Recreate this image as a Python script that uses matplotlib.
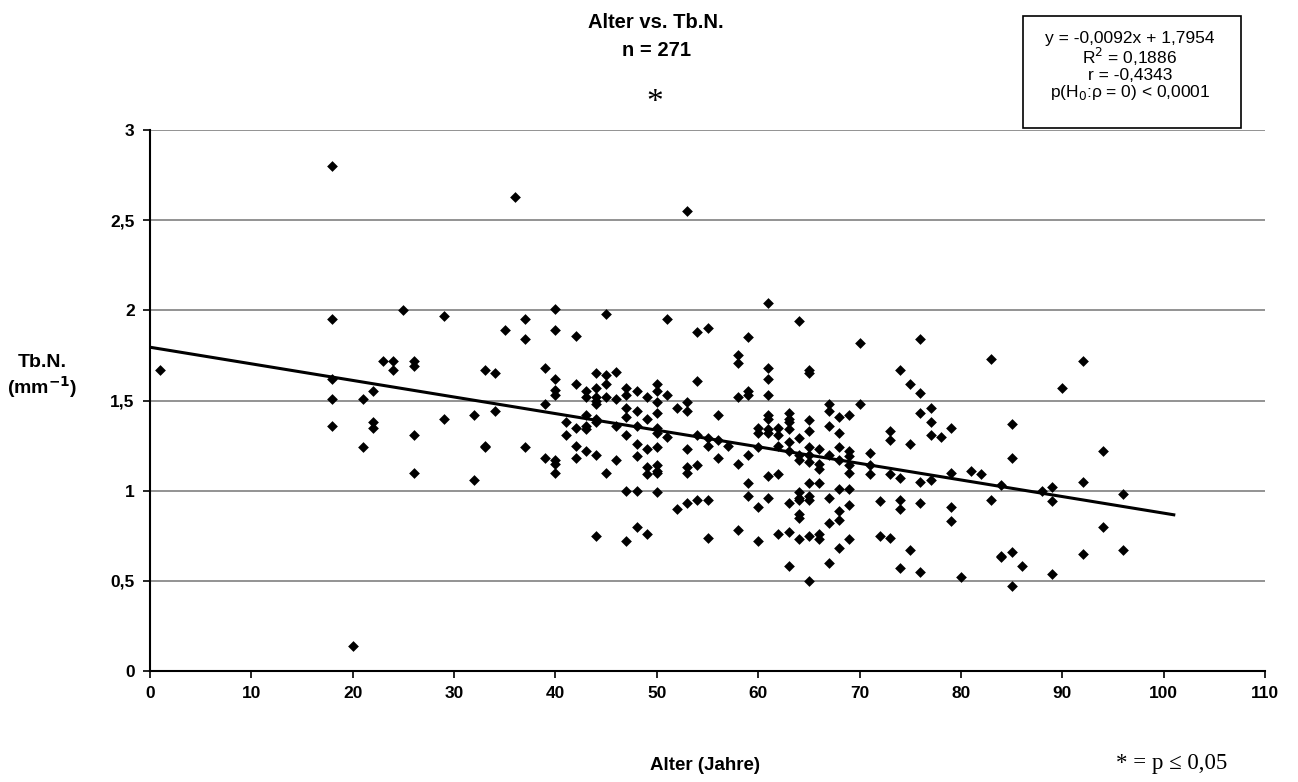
import matplotlib
matplotlib.use("Agg")
import matplotlib.pyplot as plt
import numpy as np

# ---- data ----
ages_groups = {
    1: [1.67],
    18: [2.80, 1.95, 1.62, 1.51, 1.36],
    20: [0.14],
    21: [1.51, 1.24],
    22: [1.55, 1.38, 1.35],
    23: [1.72],
    24: [1.72, 1.67],
    25: [2.00],
    26: [1.72, 1.69, 1.31, 1.10],
    29: [1.97, 1.40],
    32: [1.42, 1.06],
    33: [1.67, 1.25, 1.24],
    34: [1.65, 1.44],
    35: [1.89],
    36: [2.63],
    37: [1.95, 1.84, 1.24],
    39: [1.68, 1.48, 1.18],
    40: [2.01, 1.89, 1.62, 1.56, 1.53, 1.17, 1.15, 1.10],
    41: [1.38, 1.31],
    42: [1.86, 1.59, 1.35, 1.25, 1.18],
    43: [1.55, 1.52, 1.42, 1.36, 1.34, 1.22],
    44: [1.65, 1.57, 1.52, 1.50, 1.48, 1.40, 1.38, 1.20, 0.75],
    45: [1.98, 1.64, 1.59, 1.52, 1.10],
    46: [1.66, 1.51, 1.36, 1.17],
    47: [1.57, 1.53, 1.46, 1.41, 1.31, 1.00, 0.72],
    48: [1.55, 1.44, 1.36, 1.26, 1.19, 1.00, 0.80],
    49: [1.52, 1.40, 1.23, 1.13, 1.09, 0.76],
    50: [1.59, 1.55, 1.49, 1.43, 1.35, 1.32, 1.24, 1.14, 1.11, 1.10, 0.99],
    51: [1.95, 1.53, 1.30],
    52: [1.46, 0.90],
    53: [2.55, 1.49, 1.44, 1.23, 1.13, 1.10, 0.93],
    54: [1.88, 1.61, 1.31, 1.14, 0.95],
    55: [1.90, 1.29, 1.25, 0.95, 0.74],
    56: [1.42, 1.28, 1.18],
    57: [1.25],
    58: [1.75, 1.71, 1.52, 1.15, 0.78],
    59: [1.85, 1.55, 1.53, 1.20, 1.04, 0.97],
    60: [1.35, 1.32, 1.24, 0.91, 0.72],
    61: [2.04, 1.68, 1.62, 1.53, 1.42, 1.40, 1.34, 1.32, 1.08, 0.96],
    62: [1.35, 1.31, 1.25, 1.09, 0.76],
    63: [1.43, 1.40, 1.38, 1.34, 1.27, 1.22, 0.93, 0.77, 0.58],
    64: [1.94, 1.29, 1.20, 1.17, 0.99, 0.96, 0.95, 0.87, 0.85, 0.73],
    65: [1.67, 1.65, 1.39, 1.33, 1.24, 1.20, 1.16, 1.04, 0.97, 0.95, 0.75, 0.50],
    66: [1.23, 1.15, 1.12, 1.04, 0.76, 0.73],
    67: [1.48, 1.44, 1.36, 1.20, 0.96, 0.82, 0.60],
    68: [1.41, 1.32, 1.24, 1.17, 1.01, 0.89, 0.84, 0.68],
    69: [1.42, 1.22, 1.19, 1.14, 1.10, 1.01, 0.92, 0.73],
    70: [1.82, 1.48],
    71: [1.21, 1.14, 1.09],
    72: [0.94, 0.75],
    73: [1.33, 1.28, 1.09, 0.74],
    74: [1.67, 1.07, 0.95, 0.90, 0.57],
    75: [1.59, 1.26, 0.67],
    76: [1.84, 1.54, 1.43, 1.05, 0.93, 0.55],
    77: [1.46, 1.38, 1.31, 1.06],
    78: [1.30],
    79: [1.35, 1.10, 0.91, 0.83],
    80: [0.52],
    81: [1.11],
    82: [1.09],
    83: [1.73, 0.95],
    84: [1.03, 0.64, 0.63],
    85: [1.37, 1.18, 0.66, 0.47],
    86: [0.58],
    88: [1.00],
    89: [1.02, 0.94, 0.54],
    90: [1.57],
    92: [1.72, 1.05, 0.65],
    94: [1.22, 0.80],
    96: [0.98, 0.67],
}
alter = [a for a, vs in ages_groups.items() for _ in vs]
tbn = [v for a, vs in ages_groups.items() for v in vs]

slope = -0.0092
intercept = 1.7954
fit_x = [0, 101]

x_ticks = list(range(0, 111, 10))
y_ticks = [0, 0.5, 1, 1.5, 2, 2.5, 3]
y_tick_labels = ["0", "0,5", "1", "1,5", "2", "2,5", "3"]

plt.rcParams['font.family'] = ['Liberation Sans', 'DejaVu Sans']

W, H = 1298, 782
fig = plt.figure(figsize=(W / 100, H / 100), dpi=100)
ax = fig.add_axes([150 / W, 1 - 671 / H, 1115 / W, 541 / H])

ax.set_xlim(0, 110)
ax.set_ylim(0, 3)
for yv in y_ticks[1:]:
    ax.axhline(yv, color='#808080', lw=1.2, zorder=1)

ax.scatter(alter, tbn, marker='D', s=30, color='black', zorder=3, linewidths=0)
fx = np.array(fit_x, dtype=float)
ax.plot(fx, slope * fx + intercept, color='black', lw=2.2, zorder=4)

for s in ['top', 'right']:
    ax.spines[s].set_visible(False)
for s in ['left', 'bottom']:
    ax.spines[s].set_linewidth(1.5)
    ax.spines[s].set_color('black')

ax.set_xticks(x_ticks)
ax.set_xticklabels([str(t) for t in x_ticks], fontsize=12.5, fontweight='bold')
ax.set_yticks(y_ticks)
ax.set_yticklabels(y_tick_labels, fontsize=12.5, fontweight='bold')
ax.tick_params(axis='both', direction='out', length=5, width=1.2, pad=6)

# titles and labels
fig.text(656 / W, 1 - 22 / H, "Alter vs. Tb.N.", ha='center', va='center',
         fontsize=14.5, fontweight='bold')
fig.text(656 / W, 1 - 50 / H, "n = 271", ha='center', va='center',
         fontsize=14.5, fontweight='bold')
fig.text(655 / W, 1 - 103 / H, "*", ha='center', va='center',
         fontsize=24, family='Liberation Serif')
fig.text(42 / W, 1 - 377 / H, "Tb.N.\n(mm$^{\\mathbf{-1}}$)", ha='center', va='center',
         fontsize=14, fontweight='bold', linespacing=1.15)
fig.text(705 / W, 1 - 765 / H, "Alter (Jahre)", ha='center', va='center',
         fontsize=13.5, fontweight='bold')
fig.text(1172 / W, 1 - 764 / H, "* = p \u2264 0,05", ha='center', va='center',
         fontsize=16.5, family='Liberation Serif')

# stats box
box = plt.Rectangle((1023 / W, 1 - 128 / H), 218 / W, 112 / H, transform=fig.transFigure,
                    fill=False, edgecolor='black', lw=1.2)
fig.patches.append(box)
bx = 1130 / W
lines = ["y = -0,0092x + 1,7954", "R$^2$ = 0,1886", "r = -0,4343",
         "p(H$_0$:\u03c1 = 0) < 0,0001"]
ys = [38, 57, 75, 93]
for t, yy in zip(lines, ys):
    fig.text(bx, 1 - yy / H, t, ha='center', va='center', fontsize=12.5)

fig.savefig("out.png", dpi=100)
